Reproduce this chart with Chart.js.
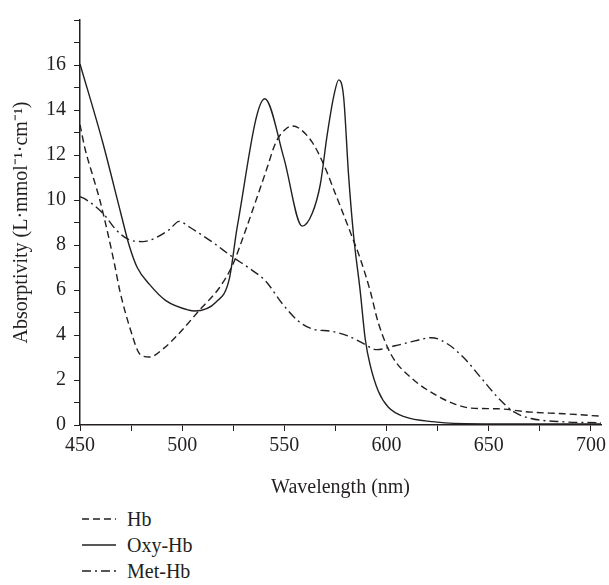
<!DOCTYPE html>
<html>
<head>
<meta charset="utf-8">
<script src="https://cdn.jsdelivr.net/npm/chart.js@4/dist/chart.umd.min.js"></script>
<style>
    body { margin: 0; background: #fff; overflow: hidden; }
    #wrap { position: relative; width: 609px; height: 585px; }
    #legend { position: absolute; left: 82px; top: 506px; font-family: 'Liberation Serif', serif; font-size: 20px; color: #231f20; }
    .row { height: 26px; display: flex; align-items: center; }
    .row svg { width: 34px; height: 6px; margin-right: 11px; }
</style>
</head>
<body>
<div id="wrap">
    <canvas id="chart" width="609" height="500"></canvas>
    <div id="legend"></div>
</div>
<script>
// Hb (dashed)
const hbNm  = [450, 452.4, 456.5, 459.7, 463.4, 467, 469.5, 475.2, 479.2, 484, 490.6, 498.7, 508.4, 518.2, 524.6, 531.2, 536, 540.9, 545.8, 550, 553.8, 557, 563.6, 569.3, 575, 583, 587.1, 592, 596, 602.5, 612.3, 623.6, 633.4, 641.5, 654.5, 670.7, 686.9, 705];
const hbVal = [13.35, 12.3, 11.0, 10.0, 8.6, 7.1, 5.96, 4.09, 3.16, 3.02, 3.38, 4.09, 5.1, 6.1, 7.1, 8.7, 9.95, 11.25, 12.55, 13.1, 13.29, 13.2, 12.57, 11.57, 10.27, 8.4, 7.4, 5.96, 4.53, 3.09, 2.08, 1.36, 0.93, 0.75, 0.72, 0.57, 0.5, 0.39];

// Oxy-Hb (solid)
const oxyNm  = [450, 461, 470, 474, 478, 484, 492, 503.5, 506, 516.5, 523, 527, 540.4, 549.8, 558.7, 563.6, 567.6, 570.9, 574.1, 576.6, 579, 581.4, 583.9, 587.1, 589.6, 592, 596, 600.9, 609, 623.6, 633, 660, 705];
const oxyVal = [16.05, 12.6, 9.4, 8.0, 7.0, 6.25, 5.53, 5.1, 5.07, 5.46, 6.47, 8.84, 14.5, 11.85, 8.84, 9.4, 10.7, 12.86, 14.58, 15.34, 14.58, 11.13, 8.4, 5.96, 3.8, 2.66, 1.5, 0.79, 0.36, 0.14, 0.07, 0.05, 0.05];

// Met-Hb (dash-dot)
const metNm  = [450, 452.4, 461.3, 467.9, 473.5, 480.8, 487.3, 493.8, 498.5, 503.5, 514.9, 524.6, 532.8, 540.9, 549, 557.1, 563.6, 573.3, 581.4, 587.9, 595.2, 604.2, 613.9, 622, 630.1, 638.3, 646.4, 654.5, 662.6, 670.7, 686.9, 705];
const metVal = [10.15, 10.05, 9.4, 8.65, 8.26, 8.15, 8.33, 8.69, 9.05, 8.8, 8.12, 7.47, 6.97, 6.39, 5.39, 4.6, 4.27, 4.16, 3.95, 3.66, 3.35, 3.52, 3.74, 3.88, 3.59, 2.94, 2.08, 1.22, 0.57, 0.29, 0.14, 0.1];

const xTicks = [450, 475, 500, 525, 550, 575, 600, 625, 650, 675, 700];

const ink = '#231f20';
const serif = "'Liberation Serif', 'Times New Roman', serif";

function toPoints(xs, ys) {
    return xs.map((x, i) => ({ x: x, y: ys[i] }));
}

const series = [
    { label: 'Hb', data: toPoints(hbNm, hbVal), dash: [7, 4] },
    { label: 'Oxy-Hb', data: toPoints(oxyNm, oxyVal), dash: [] },
    { label: 'Met-Hb', data: toPoints(metNm, metVal), dash: [9, 4, 2, 4] }
];

new Chart(document.getElementById('chart'), {
    type: 'line',
    data: {
        datasets: series.map(s => ({
            label: s.label,
            data: s.data,
            borderColor: ink,
            borderWidth: 1.4,
            borderDash: s.dash,
            pointRadius: 0,
            fill: false,
            cubicInterpolationMode: 'monotone'
        }))
    },
    options: {
        responsive: false,
        animation: false,
        layout: { padding: { top: 7, right: 5, bottom: 0, left: 0 } },
        plugins: { legend: { display: false }, tooltip: { enabled: false } },
        scales: {
            x: {
                type: 'linear',
                min: 450,
                max: 705,
                afterBuildTicks: scale => { scale.ticks = xTicks.map(v => ({ value: v })); },
                afterFit: scale => { scale.height = 75; },
                border: { display: true, color: ink, width: 1.5 },
                grid: { drawOnChartArea: false, drawTicks: true, tickLength: 6, color: ink, lineWidth: 1 },
                ticks: {
                    autoSkip: false,
                    maxRotation: 0,
                    padding: 3,
                    color: ink,
                    font: { family: serif, size: 20 },
                    callback: v => (v % 50 === 0 ? v : '')
                },
                title: {
                    display: true,
                    text: 'Wavelength (nm)',
                    color: ink,
                    font: { family: serif, size: 20 },
                    padding: { top: 4, bottom: 0 }
                }
            },
            y: {
                min: 0,
                max: 18,
                afterFit: scale => { scale.width = 80; },
                border: { display: true, color: ink, width: 1.5 },
                grid: { drawOnChartArea: false, drawTicks: true, tickLength: 6, color: ink, lineWidth: 1 },
                ticks: {
                    stepSize: 1,
                    autoSkip: false,
                    padding: 8,
                    color: ink,
                    font: { family: serif, size: 20 },
                    callback: v => (v % 2 === 0 && v <= 16 ? v : '')
                },
                title: {
                    display: true,
                    text: 'Absorptivity (L\u00b7mmol\u207b\u00b9\u00b7cm\u207b\u00b9)',
                    color: ink,
                    font: { family: serif, size: 20 },
                    padding: { top: 10, bottom: 0 }
                }
            }
        }
    }
});

// legend as html rows
const legend = document.getElementById('legend');
series.forEach(s => {
    const row = document.createElement('div');
    row.className = 'row';
    const dash = s.dash.length ? s.dash.join(' ') : 'none';
    row.innerHTML = '<svg viewBox="0 0 34 6"><line x1="0" y1="3" x2="34" y2="3" stroke="' + ink +
        '" stroke-width="1.4" stroke-dasharray="' + dash + '"/></svg><span>' + s.label + '</span>';
    legend.appendChild(row);
});
</script>
</body>
</html>
